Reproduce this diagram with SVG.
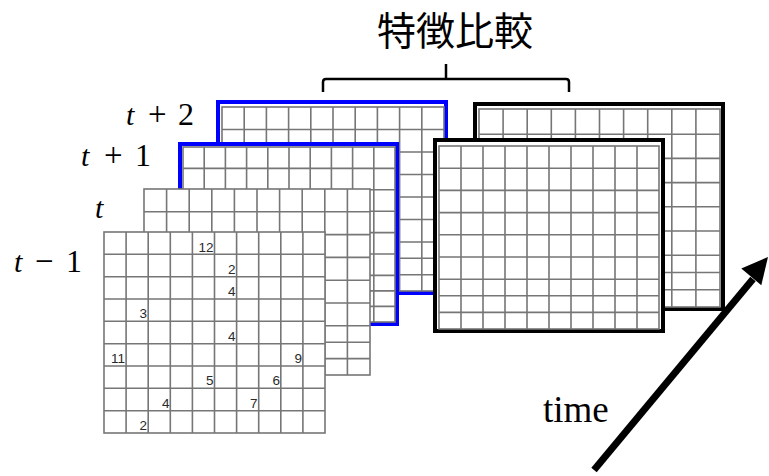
<svg xmlns="http://www.w3.org/2000/svg" width="769" height="476" viewBox="0 0 769 476">
<style>
.bg{fill:#fff}
.gl{fill:none;stroke:#767676;stroke-width:1.6}
.blue{fill:#fff;stroke:#0000ff;stroke-width:4}
.black{fill:#fff;stroke:#000;stroke-width:4}
.num{font-family:"Liberation Sans",Arial,sans-serif;font-size:13.5px;fill:#2a2a2a;text-anchor:end}
.lbl{font-family:"Liberation Serif","Times New Roman",serif;font-size:30px;fill:#000}
.it{font-style:italic}
</style>
<rect width="769" height="476" fill="#fff"/>

<g id="frame-back-black">
<rect class="black" x="475" y="104" width="248" height="205"/>
<rect class="gl" x="479" y="109" width="241" height="198"/>
<path class="gl" d="M503.1 109V307M527.2 109V307M551.3 109V307M575.4 109V307M599.5 109V307M623.6 109V307M647.7 109V307M671.8 109V307M695.9 109V307M479 134.2H720M479 158.4H720M479 182.6H720M479 206.8H720M479 231H720M479 255.2H720M479 272.5H720M479 289.7H720"/>
</g>

<g id="frame-t-plus-2">
<rect class="blue" x="218" y="102" width="228" height="191"/>
<rect class="gl" x="222" y="107" width="222" height="184"/>
<path class="gl" d="M244.2 107V291M266.4 107V291M288.6 107V291M310.8 107V291M333 107V291M355.2 107V291M377.4 107V291M399.6 107V291M421.8 107V291M222 129.5H444M222 152H444M222 174.5H444M222 197H444M222 219.5H444M222 242H444M222 258.3H444M222 274.7H444"/>
</g>

<g id="frame-t-plus-1">
<rect class="blue" x="180" y="144" width="217" height="180"/>
<rect class="gl" x="183" y="147" width="212" height="175"/>
<path class="gl" d="M204.2 147V322M225.4 147V322M246.6 147V322M267.8 147V322M289 147V322M310.2 147V322M331.4 147V322M352.6 147V322M373.8 147V322M183 168.4H395M183 189.8H395M183 211.2H395M183 232.6H395M183 254H395M183 275.4H395M183 290.9H395M183 306.4H395"/>
</g>

<g id="frame-t">
<rect class="bg" x="144" y="189" width="226" height="186"/>
<rect class="gl" x="144" y="189" width="226" height="186"/>
<path class="gl" d="M166.6 189V375M189.2 189V375M211.8 189V375M234.4 189V375M257 189V375M279.6 189V375M302.2 189V375M324.8 189V375M347.4 189V375M144 211.8H370M144 234.6H370M144 257.4H370M144 280.2H370M144 303H370M144 325.8H370M144 342.2H370M144 358.6H370"/>
</g>

<g id="frame-t-minus-1">
<rect class="bg" x="104" y="232" width="221" height="201"/>
<rect class="gl" x="104" y="232" width="221" height="201"/>
<path class="gl" d="M126.1 232V433M148.2 232V433M170.3 232V433M192.4 232V433M214.5 232V433M236.6 232V433M258.7 232V433M280.8 232V433M302.9 232V433M104 254.3H325M104 276.7H325M104 299H325M104 321.3H325M104 343.7H325M104 366H325M104 388.3H325M104 410.7H325"/>
<text class="num" x="213.5" y="251.5">12</text>
<text class="num" x="235.5" y="273.7">2</text>
<text class="num" x="235.5" y="296">4</text>
<text class="num" x="147" y="318.3">3</text>
<text class="num" x="235.5" y="340.7">4</text>
<text class="num" x="125" y="363">11</text>
<text class="num" x="302" y="363">9</text>
<text class="num" x="213.5" y="385.3">5</text>
<text class="num" x="280" y="385.3">6</text>
<text class="num" x="169.5" y="407.7">4</text>
<text class="num" x="257.5" y="407.7">7</text>
<text class="num" x="147" y="430">2</text>
</g>

<g id="frame-front-black">
<rect class="black" x="435" y="140" width="228" height="191"/>
<rect class="gl" x="439" y="146" width="220" height="183"/>
<path class="gl" d="M461 146V329M483 146V329M505 146V329M527 146V329M549 146V329M571 146V329M593 146V329M615 146V329M637 146V329M439 168.2H659M439 190.4H659M439 212.6H659M439 234.8H659M439 257H659M439 279.2H659M439 295.8H659M439 312.4H659"/>
</g>

<g id="labels">
<text class="lbl" y="124.5"><tspan class="it" x="126">t</tspan><tspan x="148" font-size="33">+</tspan><tspan x="178" font-size="32">2</tspan></text>
<text class="lbl" y="166"><tspan class="it" x="81">t</tspan><tspan x="104" font-size="33">+</tspan><tspan x="135" font-size="32">1</tspan></text>
<text class="lbl" y="218.3"><tspan class="it" x="95">t</tspan></text>
<text class="lbl" y="271.7"><tspan class="it" x="14">t</tspan><tspan x="35" font-size="33">−</tspan><tspan x="66" font-size="32">1</tspan></text>
<text x="455" y="45" text-anchor="middle" font-family="'Noto Sans CJK JP','Noto Sans CJK SC',sans-serif" font-size="39" fill="#000">特徴比較</text>
<text x="543" y="422" font-family="'Liberation Serif','Times New Roman',serif" font-size="37" fill="#000">time</text>
</g>

<g id="connectors">
<path d="M323 92V82Q323 79 326 79H566Q569 79 569 82V92M446 79V64" fill="none" stroke="#000" stroke-width="2.5"/>
<line x1="594" y1="470" x2="753" y2="279" stroke="#000" stroke-width="7"/>
<polygon points="768,257 761.3,285.2 741.3,268.6" fill="#000"/>
</g>
</svg>
